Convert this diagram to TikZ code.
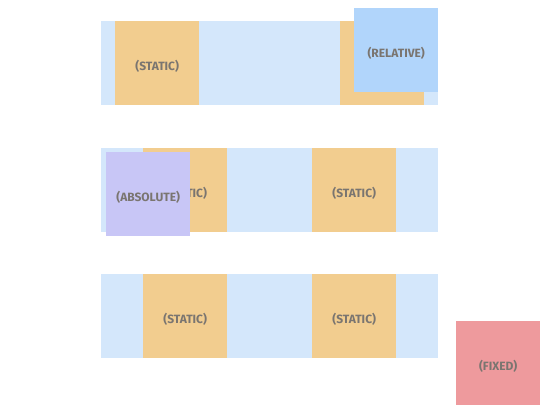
\documentclass[tikz,border=0pt]{standalone}
\usepackage{fontspec}
\setmainfont{Fira Sans}
\definecolor{rowblue}{HTML}{D4E7FB}
\definecolor{staticorange}{HTML}{F2CD8F}
\definecolor{relativeblue}{HTML}{B1D5FB}
\definecolor{absolutepurple}{HTML}{C8C6F6}
\definecolor{fixedred}{HTML}{EE9A9D}
\definecolor{labelgray}{HTML}{7A7570}

\begin{document}
\begin{tikzpicture}[
            x = 1pt, y = -1pt,
            row/.style = {
                fill = rowblue,
                anchor = north west,
                inner sep = 0,
                minimum width = 337pt,
                minimum height = 84pt,
            },
            box/.style = {
                anchor = north west,
                inner sep = 0,
                minimum size = 84pt,
                text = labelgray,
                text height = 14pt,
                text depth = 0pt,
                font = \bfseries\fontsize{12}{14}\selectfont,
            },
            static/.style = {box, fill = staticorange},
        ]

        \useasboundingbox (0,0) rectangle (540,405);

        % Rijen
        \node[row] (row_top) at (101,21) {};
        \node[row] (row_middle) at (101,148) {};
        \node[row] (row_bottom) at (101,274) {};

        % Bovenste rij
        \node[static] (static_top_left) at (115,21) {(STATIC)};
        \node[static] (static_top_right) at (340,21) {};
        \node[box, fill = relativeblue] (relative) at (354,8) {(RELATIVE)};

        % Middelste rij
        \node[static] (static_middle_left) at (143,148) {(STATIC)};
        \node[static] (static_middle_right) at (312,148) {(STATIC)};
        \node[box, fill = absolutepurple] (absolute) at (106,152) {(ABSOLUTE)};

        % Onderste rij
        \node[static] (static_bottom_left) at (143,274) {(STATIC)};
        \node[static] (static_bottom_right) at (312,274) {(STATIC)};

        % Vast
        \node[box, fill = fixedred] (fixed) at (456,321) {(FIXED)};
    \end{tikzpicture}
\end{document}
